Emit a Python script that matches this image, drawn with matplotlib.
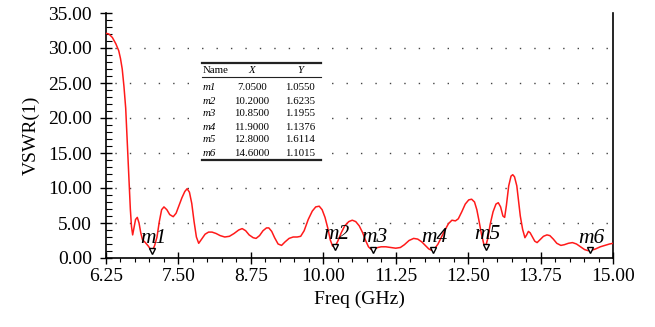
import matplotlib.pyplot as plt
import numpy as np

plt.rcParams['font.family'] = ['Liberation Serif', 'DejaVu Serif']

# VSWR curve
freq = [6.25, 6.30, 6.36, 6.42, 6.47, 6.50, 6.53, 6.56, 6.59, 6.61, 6.63, 6.65, 6.67, 6.69,
        6.71, 6.73, 6.76, 6.79, 6.82, 6.85, 6.88, 6.93, 6.98, 7.03, 7.06, 7.09, 7.13, 7.17,
        7.21, 7.25, 7.30, 7.35, 7.41, 7.46, 7.51, 7.56, 7.61, 7.65, 7.69, 7.73, 7.77, 7.81,
        7.85, 7.90, 7.96, 8.02, 8.08, 8.15, 8.22, 8.30, 8.38, 8.46, 8.54, 8.60, 8.66, 8.72,
        8.79, 8.84, 8.90, 8.96, 9.02, 9.06, 9.11, 9.16, 9.22, 9.28, 9.34, 9.41, 9.48, 9.55,
        9.61, 9.67, 9.74, 9.81, 9.87, 9.93, 9.98, 10.03, 10.08, 10.12, 10.16, 10.20, 10.25,
        10.31, 10.37, 10.44, 10.50, 10.56, 10.62, 10.68, 10.73, 10.78, 10.83, 10.88, 10.94,
        11.00, 11.08, 11.16, 11.25, 11.33, 11.40, 11.48, 11.56, 11.63, 11.70, 11.76, 11.82,
        11.87, 11.92, 11.98, 12.04, 12.10, 12.16, 12.22, 12.28, 12.33, 12.39, 12.45, 12.51,
        12.56, 12.61, 12.65, 12.69, 12.73, 12.77, 12.80, 12.84, 12.88, 12.93, 12.98, 13.02,
        13.06, 13.10, 13.13, 13.16, 13.20, 13.24, 13.27, 13.30, 13.34, 13.37, 13.40, 13.44,
        13.48, 13.51, 13.54, 13.57, 13.61, 13.65, 13.69, 13.74, 13.80, 13.86, 13.91, 13.97,
        14.03, 14.10, 14.16, 14.23, 14.30, 14.37, 14.44, 14.51, 14.57, 14.63, 14.70, 14.78,
        14.86, 14.94, 15.00]
vswr = [32.1, 32.0, 31.5, 30.6, 29.6, 28.5, 27.0, 24.5, 21.4, 17.8, 14.2, 10.5, 7.0, 4.5,
        3.3, 4.2, 5.5, 5.8, 5.0, 3.6, 2.6, 2.2, 1.7, 1.1, 1.2, 1.8, 3.0, 5.2,
        6.9, 7.3, 6.9, 6.2, 5.9, 6.4, 7.5, 8.6, 9.5, 9.9, 9.4, 7.8, 5.2, 3.0,
        2.1, 2.7, 3.4, 3.7, 3.7, 3.5, 3.2, 3.0, 3.1, 3.5, 4.0, 4.2, 3.9, 3.3,
        2.9, 2.8, 3.2, 3.9, 4.3, 4.3, 3.8, 2.9, 2.0, 1.8, 2.3, 2.8, 3.0, 3.0,
        3.1, 3.9, 5.5, 6.7, 7.3, 7.4, 6.9, 5.8, 4.2, 2.6, 1.7, 1.6, 2.4,
        3.6, 4.6, 5.2, 5.4, 5.2, 4.6, 3.6, 2.5, 1.6, 1.2, 1.3, 1.5,
        1.6, 1.6, 1.5, 1.4, 1.5, 1.9, 2.5, 2.8, 2.7, 2.3, 1.8, 1.3,
        1.1, 1.3, 2.0, 3.0, 4.0, 4.9, 5.4, 5.3, 5.6, 6.6, 7.7, 8.3,
        8.4, 8.0, 6.9, 5.2, 3.4, 2.0, 1.6, 2.8, 4.8, 6.6, 7.7, 7.9,
        7.3, 6.0, 5.8, 7.5, 10.3, 11.7, 11.9, 11.6, 10.3, 8.2, 6.0, 4.1,
        2.9, 3.3, 3.8, 3.6, 3.0, 2.4, 2.2, 2.6, 3.1, 3.3, 3.2, 2.7,
        2.1, 1.8, 1.9, 2.1, 2.2, 2.0, 1.6, 1.2, 1.05, 1.1, 1.3, 1.6,
        1.8, 2.0, 2.1]

# marker table
m_names = ['m1', 'm2', 'm3', 'm4', 'm5', 'm6']
m_x = [7.05, 10.20, 10.85, 11.90, 12.80, 14.60]
m_y = [1.0550, 1.6235, 1.1955, 1.1376, 1.6114, 1.1015]

xticks = [6.25, 7.50, 8.75, 10.00, 11.25, 12.50, 13.75, 15.00]
yticks = [0, 5, 10, 15, 20, 25, 30, 35]

W, H = 655, 327
fig = plt.figure(figsize=(6.55, 3.27), dpi=100)
ax = fig.add_axes([106 / W, 1 - 258 / H, 507 / W, 245 / H])

# dotted grid rows
for yv in yticks[1:-1]:
    ax.axhline(yv, color='#444444', lw=1.0, ls=(4, (1, 9.4)), zorder=1)

ax.plot(freq, vswr, color='#ff1a1a', lw=1.1, zorder=3)

for name, mx, my in zip(m_names, m_x, m_y):
    ax.plot(mx, my, marker='v', ms=5, mfc='white', mec='black', mew=1.0, zorder=4)
    ax.annotate(name, (mx, my), xytext=(1, 2), textcoords='offset points',
                ha='center', va='bottom', fontsize=15.5, style='italic', zorder=5)

ax.set_xlim(6.25, 15.0)
ax.set_ylim(0, 35)
ax.set_xticks(xticks)
ax.set_xticklabels(['%.2f' % v for v in xticks])
ax.set_yticks(yticks)
ax.set_yticklabels(['%.2f' % v for v in yticks])
ax.set_xticks(np.arange(6.25, 15.01, 0.25), minor=True)
ax.set_yticks(np.arange(0, 35.1, 1), minor=True)
ax.tick_params(which='major', direction='inout', length=8, width=1, labelsize=14)
ax.tick_params(axis='y', which='minor', direction='in', length=4, width=0.8)
ax.tick_params(axis='x', which='minor', direction='out', length=3, width=0.8)
ax.tick_params(axis='x', which='major', pad=3)
ax.tick_params(axis='y', which='major', pad=6)
ax.spines['top'].set_visible(False)
for s in ['left', 'bottom', 'right']:
    ax.spines[s].set_linewidth(1.2)

ax.set_xlabel('Freq (GHz)', fontsize=14, labelpad=4)
ax.set_ylabel('VSWR(1)', fontsize=14, labelpad=6)

# marker table drawn in figure pixels
def fx(px):
    return px / W

def fy(py):
    return 1 - py / H

fig.add_artist(plt.Rectangle((fx(199), fy(162)), fx(125), 100 / H, facecolor='white',
                             edgecolor='none', zorder=2))
for yl, lw in [(63, 1.6), (77, 0.8), (160, 1.6)]:
    fig.add_artist(plt.Line2D([fx(202), fx(321)], [fy(yl), fy(yl)], color='#222222', lw=lw, zorder=3))
fig.text(fx(203), fy(70.5), 'Name', fontsize=7.8, ha='left', va='center', zorder=4)
fig.text(fx(252), fy(70.5), 'X', fontsize=7.8, style='italic', ha='center', va='center', zorder=4)
fig.text(fx(300), fy(70.5), 'Y', fontsize=7.8, style='italic', ha='center', va='center', zorder=4)
for i, (name, mx, my) in enumerate(zip(m_names, m_x, m_y)):
    yy = fy(88 + 13 * i)
    fig.text(fx(203), yy, name, fontsize=7.8, style='italic', ha='left', va='center', zorder=4)
    fig.text(fx(252), yy, '%.4f' % mx, fontsize=7.8, ha='center', va='center', zorder=4)
    fig.text(fx(300), yy, '%.4f' % my, fontsize=7.8, ha='center', va='center', zorder=4)

fig.savefig('out.png', dpi=100)
